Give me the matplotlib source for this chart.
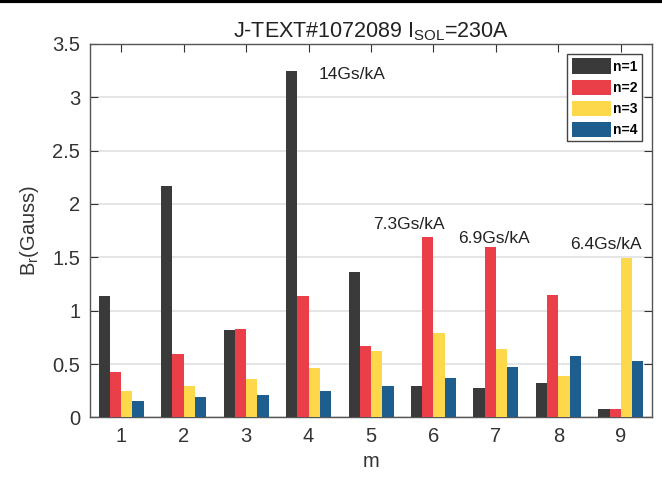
import numpy as np
import matplotlib
matplotlib.use("Agg")
import matplotlib.pyplot as plt
from matplotlib.lines import Line2D

plt.rcParams['font.family'] = ['Liberation Sans', 'DejaVu Sans']

# --- данные ---
m_vals = [1, 2, 3, 4, 5, 6, 7, 8, 9]
n1 = [1.14, 2.17, 0.82, 3.25, 1.36, 0.29, 0.28, 0.32, 0.08]
n2 = [0.43, 0.59, 0.83, 1.14, 0.67, 1.69, 1.60, 1.15, 0.08]
n3 = [0.25, 0.29, 0.36, 0.46, 0.62, 0.79, 0.64, 0.39, 1.49]
n4 = [0.15, 0.19, 0.21, 0.25, 0.29, 0.37, 0.47, 0.58, 0.53]
series_labels = ["n=1", "n=2", "n=3", "n=4"]
colors = ["#3a3a3a", "#ea3f48", "#fdd84b", "#1d5e8e"]

# подписи над столбцами
notes = ["14Gs/kA", "7.3Gs/kA", "6.9Gs/kA", "6.4Gs/kA"]
note_x = [4.16, 5.04, 6.40, 8.18]
note_y = [3.21, 1.81, 1.68, 1.62]

fig = plt.figure(figsize=(6.62, 4.82), dpi=100)
ax = fig.add_axes([0.136, 0.134, 0.849, 0.775])

x = np.array(m_vals, dtype=float)
w = 0.18
offsets = [-1.5 * w, -0.5 * w, 0.5 * w, 1.5 * w]
for vals, off, c, lab in zip([n1, n2, n3, n4], offsets, colors, series_labels):
    ax.bar(x + off, vals, width=w, color=c, label=lab, zorder=3)

ax.set_xlim(0.5, 9.5)
ax.set_ylim(0, 3.5)
ax.set_xticks(m_vals)
ax.set_yticks(np.arange(0, 3.51, 0.5))
ax.set_yticklabels(["0", "0.5", "1", "1.5", "2", "2.5", "3", "3.5"])
ax.yaxis.grid(True, color="#e0e0e0", linewidth=1.2, zorder=0)
ax.tick_params(direction="in", top=True, right=True, length=6,
               labelsize=14.5, colors="#333333", pad=7)
for sp in ax.spines.values():
    sp.set_color("#555555")
    sp.set_linewidth(1.0)

ax.set_xlabel("m", fontsize=14.5, color="#333333", labelpad=4)
ax.set_ylabel(r"B$_\mathregular{r}$(Gauss)", fontsize=14.5, color="#333333", labelpad=8)
ax.set_title(r"J-TEXT#1072089 I$_\mathregular{SOL}$=230A", fontsize=15.5,
             color="#222222", pad=5)

for t, tx, ty in zip(notes, note_x, note_y):
    ax.text(tx, ty, t, fontsize=12.5, color="#222222", ha="left", va="center", zorder=4)

leg = ax.legend(loc="upper right", bbox_to_anchor=(0.982, 0.972),
                prop={"weight": "bold", "size": 10},
                handlelength=2.8, handleheight=1.3, handletextpad=0.2,
                labelspacing=0.42, borderpad=0.3, borderaxespad=0.0,
                fancybox=False, framealpha=1)
leg.get_frame().set_edgecolor("#444444")
leg.get_frame().set_linewidth(1.0)

# толстая чёрная полоса сверху
fig.add_artist(Line2D([0, 1], [0.997, 0.997], transform=fig.transFigure,
                      color="black", linewidth=3))

fig.savefig("out.png", dpi=100)
